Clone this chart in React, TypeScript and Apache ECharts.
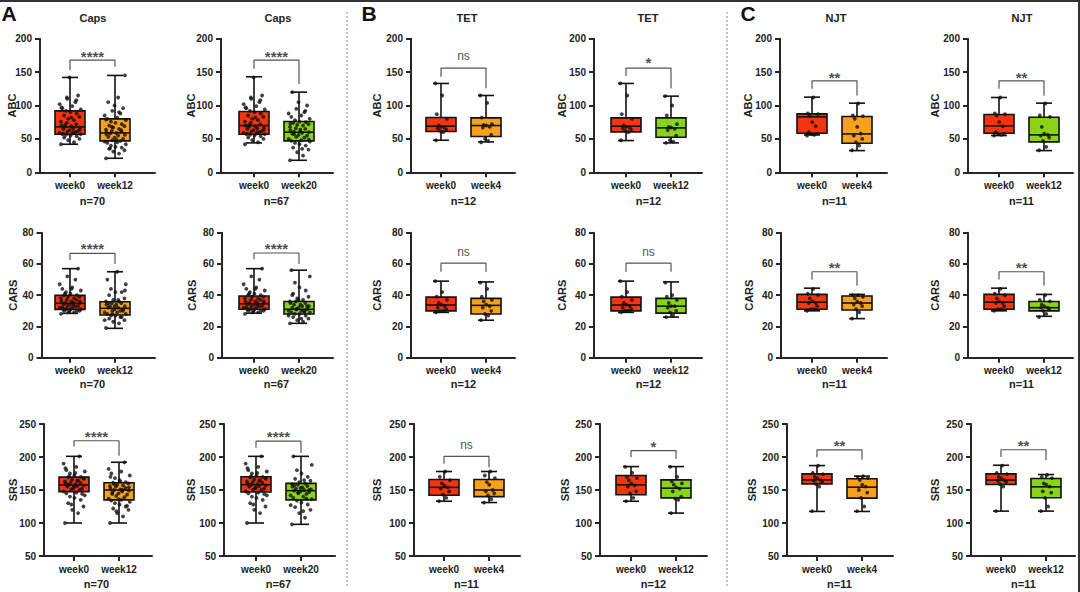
import React, { useEffect, useRef } from 'react';
import * as echarts from 'echarts';

// ---------- DATA ----------
const MEASURES = ['ABC', 'CARS', 'SRS'];
const GROUP_TITLES = ['Caps', 'Caps', 'TET', 'TET', 'NJT', 'NJT'];
const CATEGORIES = [
  ['week0', 'week12'],
  ['week0', 'week20'],
  ['week0', 'week4'],
  ['week0', 'week12'],
  ['week0', 'week4'],
  ['week0', 'week12'],
];
const N_LABELS = [
  ['n=70', 'n=67', 'n=12', 'n=12', 'n=11', 'n=11'],
  ['n=70', 'n=67', 'n=12', 'n=12', 'n=11', 'n=11'],
  ['n=70', 'n=67', 'n=11', 'n=12', 'n=11', 'n=11'],
];
// y-axis [min, max, interval]
const Y_TICKS = [
  [0, 200, 50],
  [0, 80, 20],
  [50, 250, 50],
];
const SIGNIFICANCE = [
  ['****', '****', 'ns', '*', '**', '**'],
  ['****', '****', 'ns', 'ns', '**', '**'],
  ['****', '****', 'ns', '*', '**', '**'],
];
// bracket: [left leg end, bar height, right leg end, label height]
const ABC_BRACKETS = [
  [153, 168, 158, 180], [155, 168, 132, 179], [143, 156, 126, 172],
  [144, 156, 126, 170], [125, 137, 115, 148], [125, 137, 115, 148],
];
const CARS_BRACKETS = [
  [62.5, 66.8, 60, 72.5], [63, 67, 60, 72.5], [55, 60.5, 55, 67],
  [55, 60.5, 55, 67], [50, 55, 46, 60], [50, 55, 46, 60],
];
const SRS_BRACKETS = [
  [216, 224.6, 202, 237.8], [214, 224, 206, 237], [189.6, 200.8, 184.5, 216],
  [199.6, 209.7, 197, 222], [199.7, 210.8, 195.7, 223.8], [200, 211, 195, 223],
];

// Box statistics: [min, Q1, median, Q3, max] for [week0, later week]
const ABC_BOX = [
  [[42, 57, 68, 92, 142], [21, 47, 59, 80, 145]],
  [[44, 57, 70, 91, 143], [18, 47, 60, 76, 120]],
  [[48, 61, 69, 82, 133], [45.5, 53.5, 70, 81.5, 115]],
  [[47.5, 60.5, 69, 81.5, 133], [44, 52.5, 66.5, 81.5, 114]],
  [[56, 58.5, 83, 87.5, 112.5], [32.5, 43.5, 57.5, 83.5, 103.5]],
  [[55, 58.5, 69.5, 86.5, 112], [32.5, 45.5, 56, 82.5, 103.5]],
];
const CARS_BOX = [
  [[28.4, 30.9, 34.8, 39.9, 57], [18.8, 27.3, 31.6, 35.8, 55]],
  [[28.5, 31, 34.5, 39.5, 57], [22, 28, 31, 36, 56]],
  [[29, 30, 33.7, 38.8, 49], [24, 28, 33.5, 38, 48.5]],
  [[29, 30, 33.7, 38.8, 49], [26, 28.5, 33, 38, 48.5]],
  [[30, 31, 35.5, 40.5, 44.5], [25, 30.5, 35, 39.5, 40.5]],
  [[30, 31, 35.5, 40.5, 44.5], [26.5, 30, 32, 36, 40.5]],
];
const SRS_BOX = [
  [[100, 147.5, 157.6, 169.5, 201], [100, 135, 150, 161, 192]],
  [[100, 147, 158, 170, 201], [98, 135, 149, 160, 201]],
  [[133, 142, 154, 166, 178], [131, 140, 150, 166, 178]],
  [[133, 142.7, 157.8, 172, 185.5], [115, 138, 152.8, 165.4, 185.5]],
  [[117.5, 159.3, 165.4, 174.4, 187], [117.5, 137.7, 154.3, 167, 171]],
  [[118, 158.3, 165, 174.4, 187.5], [118, 138.2, 154.8, 167.4, 173.4]],
];

// Individual subject values
const ABC_CAPS_W0 = [42, 45, 48, 50, 52, 54, 55, 56, 57, 57, 58, 59, 60, 61, 62, 63, 65, 66, 67, 68, 69, 70, 72, 74, 76, 78, 80, 83, 85, 88, 90, 92, 94, 96, 99, 102, 105, 110, 115, 142, 58, 60, 64, 71, 82, 97, 108, 112];
const ABC_CAPS_W12 = [21, 28, 31, 33, 35, 37, 38, 40, 42, 44, 45, 46, 47, 48, 50, 52, 53, 55, 56, 58, 59, 60, 61, 62, 64, 65, 67, 69, 70, 72, 74, 76, 78, 80, 82, 85, 88, 92, 96, 100, 105, 112, 145, 36, 49, 57, 63, 68, 79, 90];
const ABC_CAPS_W20 = [18, 25, 30, 34, 37, 40, 42, 44, 46, 47, 48, 50, 52, 53, 55, 56, 58, 59, 60, 61, 62, 63, 65, 66, 68, 70, 71, 72, 74, 75, 76, 78, 80, 83, 85, 88, 90, 95, 100, 105, 120, 35, 49, 57, 64, 73, 92];
const CARS_CAPS_W0 = [28, 29, 29, 30, 30, 30, 31, 31, 31, 32, 32, 32, 33, 33, 33, 34, 34, 35, 35, 35, 36, 36, 37, 37, 38, 38, 39, 39, 40, 40, 41, 42, 43, 44, 45, 47, 50, 52, 57, 30, 31, 34, 36, 41, 44];
const CARS_CAPS_W12 = [19, 22, 23, 24, 25, 26, 27, 27, 28, 28, 29, 29, 30, 30, 31, 31, 32, 32, 33, 33, 34, 34, 35, 35, 36, 36, 37, 38, 40, 42, 42, 44, 47, 50, 55, 24, 26, 28, 30, 33, 35, 37, 43];
const CARS_CAPS_W20 = [22, 23, 24, 25, 26, 27, 28, 28, 29, 29, 30, 30, 30, 31, 31, 32, 32, 33, 33, 34, 34, 35, 35, 36, 36, 37, 38, 39, 41, 43, 45, 48, 52, 56, 25, 27, 29, 31, 33, 37, 40];
const SRS_CAPS_W0 = [100, 115, 120, 125, 130, 135, 138, 140, 142, 145, 146, 148, 150, 151, 152, 154, 155, 156, 157, 158, 159, 160, 161, 162, 163, 165, 166, 168, 169, 170, 172, 175, 178, 180, 185, 190, 201, 128, 144, 153, 158, 164, 167, 171, 176, 183];
const SRS_CAPS_W12 = [100, 110, 115, 120, 122, 125, 128, 130, 132, 134, 135, 137, 139, 141, 143, 145, 146, 148, 149, 150, 151, 152, 153, 155, 156, 157, 158, 160, 161, 162, 165, 168, 172, 175, 178, 182, 192, 118, 126, 136, 144, 150, 154, 159, 163, 170];
const SRS_CAPS_W20 = [98, 108, 115, 120, 124, 128, 131, 134, 136, 138, 140, 142, 144, 146, 147, 148, 149, 150, 151, 152, 154, 155, 156, 158, 159, 160, 162, 164, 167, 170, 175, 180, 188, 201, 118, 127, 137, 145, 150, 153, 157, 165];

const ABC_TET_W0 = [48, 60, 62, 64, 66, 67, 68, 70, 80, 87, 115, 133];
const ABC_TET_W4 = [45, 47, 50, 56, 67, 68, 70, 71, 72, 82, 104, 115];
const ABC_TET_W12 = [44, 46, 48, 55, 63, 65, 67, 68, 72, 85, 100, 114];
const CARS_TET_W0 = [29, 30, 30, 31, 32, 33, 34, 35, 37, 39, 42, 49];
const CARS_TET_W4 = [24, 27, 28, 30, 32, 33, 34, 36, 37, 39, 44, 48];
const CARS_TET_W12 = [26, 27, 29, 30, 32, 33, 33, 35, 37, 39, 40, 48];
const SRS_TET_W0_A = [133, 138, 143, 148, 152, 154, 157, 160, 165, 170, 178];
const SRS_TET_W4 = [131, 136, 142, 145, 148, 150, 158, 162, 168, 172, 178];
const SRS_TET_W0_B = [133, 138, 145, 148, 155, 157, 160, 165, 168, 170, 176, 185];
const SRS_TET_W12 = [115, 135, 137, 140, 148, 152, 154, 158, 160, 163, 170, 185];

const ABC_NJT_W0 = [55, 56, 57, 58, 60, 69, 75, 85, 87, 88, 112];
const ABC_NJT_W4 = [33, 40, 45, 50, 55, 58, 68, 80, 84, 85, 103];
const ABC_NJT_W12 = [33, 38, 47, 52, 55, 56, 58, 68, 83, 85, 103];
const CARS_NJT_W0 = [30, 31, 31, 33, 35, 35, 36, 38, 40, 41, 44];
const CARS_NJT_W4 = [25, 29, 31, 33, 34, 35, 36, 38, 39, 40, 40];
const CARS_NJT_W12 = [26, 28, 30, 31, 32, 32, 33, 34, 36, 37, 40];
const SRS_NJT_W0 = [118, 155, 159, 162, 164, 165, 168, 170, 174, 176, 187];
const SRS_NJT_W4 = [118, 125, 138, 146, 150, 155, 158, 165, 168, 170, 171];
const SRS_NJT_W12 = [118, 125, 138, 146, 148, 155, 158, 160, 168, 170, 173];

const PANEL_DOTS = [
  [[ABC_CAPS_W0, ABC_CAPS_W12], [ABC_CAPS_W0, ABC_CAPS_W20], [ABC_TET_W0, ABC_TET_W4], [ABC_TET_W0, ABC_TET_W12], [ABC_NJT_W0, ABC_NJT_W4], [ABC_NJT_W0, ABC_NJT_W12]],
  [[CARS_CAPS_W0, CARS_CAPS_W12], [CARS_CAPS_W0, CARS_CAPS_W20], [CARS_TET_W0, CARS_TET_W4], [CARS_TET_W0, CARS_TET_W12], [CARS_NJT_W0, CARS_NJT_W4], [CARS_NJT_W0, CARS_NJT_W12]],
  [[SRS_CAPS_W0, SRS_CAPS_W12], [SRS_CAPS_W0, SRS_CAPS_W20], [SRS_TET_W0_A, SRS_TET_W4], [SRS_TET_W0_B, SRS_TET_W12], [SRS_NJT_W0, SRS_NJT_W4], [SRS_NJT_W0, SRS_NJT_W12]],
];
const PANEL_BOX = [ABC_BOX, CARS_BOX, SRS_BOX];
const PANEL_BRACKETS = [ABC_BRACKETS, CARS_BRACKETS, SRS_BRACKETS];

// ---------- LAYOUT / STYLE ----------
const RED = '#F5350F';
const ORANGE = '#F8A11C';
const GREEN = '#88D416';
const SECOND_COLORS = [ORANGE, GREEN, ORANGE, GREEN, ORANGE, GREEN];
const FONT = 'Arial, "Liberation Sans", sans-serif';
const TXT = '#222222';
const AXIS = '#262626';
const SPACING = 45; // px between category centres
const HALF_BOX = 15;
const HALF_CAP = 8;
// [y-axis x, first category x, x-axis end]
const PANEL_X = [
  [[40, 70, 155], [221, 254, 333], [411, 441, 515], [594, 626, 702], [780, 812, 887], [968, 999, 1073]],
  [[41.5, 70, 155], [222, 254, 333], [411, 441, 515], [594, 626, 702], [781, 812, 887], [968, 999, 1073]],
  [[44, 74, 152], [224, 256, 335], [414, 444, 520], [600, 631, 707], [787, 817, 893], [971, 1001, 1075]],
];
const ROW_Y = [[38.7, 172.3], [232.7, 357.7], [424, 556]];
const N_Y = [201, 384, 584];
const TITLE_X = [93, 278, 467, 648, 836, 1022];
const NAME_GAP = [23, 25, 29, 27, 27, 28];
const ROW_NAME_EXTRA = [0, 0, 3];
const JITTER = [-0.2, 0.09, -0.04, 0.21, -0.13, 0.15, 0.01, -0.09, 0.24, -0.17, 0.05, -0.23, 0.12, -0.06, 0.18, -0.01, -0.15, 0.07, 0.22, -0.11, 0.03, -0.19, 0.14, -0.07];

function buildOption() {
  const grid: any[] = [];
  const xAxis: any[] = [];
  const yAxis: any[] = [];
  const series: any[] = [];
  const graphic: any[] = [];

  for (let r = 0; r < 3; r++) {
    for (let c = 0; c < 6; c++) {
      const idx = r * 6 + c;
      const [ax, w0, ex] = PANEL_X[r][c];
      const [yt, yb] = ROW_Y[r];
      const cats = CATEGORIES[c];
      const second = SECOND_COLORS[c];
      grid.push({ left: ax, top: yt, width: ex - ax, height: yb - yt });
      xAxis.push({
        gridIndex: idx,
        type: 'value',
        min: 1 - (w0 - ax) / SPACING,
        max: 2 + (ex - w0 - SPACING) / SPACING,
        axisLine: { show: true, onZero: false, lineStyle: { color: AXIS, width: 2 } },
        axisTick: { show: true, customValues: [1, 2], length: 5, lineStyle: { color: AXIS, width: 2 } },
        axisLabel: {
          customValues: [1, 2],
          formatter: (v: number) => cats[Math.round(v) - 1] || '',
          color: TXT, fontWeight: 'bold', fontSize: 10, fontFamily: FONT, margin: 8,
        },
        splitLine: { show: false },
      });
      const [ymin, ymax, yint] = Y_TICKS[r];
      yAxis.push({
        gridIndex: idx,
        type: 'value',
        min: ymin, max: ymax, interval: yint,
        name: MEASURES[r],
        nameLocation: 'middle',
        nameRotate: 90,
        nameGap: NAME_GAP[c] + ROW_NAME_EXTRA[r],
        nameMoveOverlap: false,
        nameTextStyle: { color: TXT, fontWeight: 'bold', fontSize: 11, fontFamily: FONT },
        axisLine: { show: true, onZero: false, lineStyle: { color: AXIS, width: 2 } },
        axisTick: { show: true, length: 5, lineStyle: { color: AXIS, width: 2 } },
        axisLabel: { color: TXT, fontWeight: 'bold', fontSize: 10, fontFamily: FONT, margin: 8 },
        splitLine: { show: false },
      });

      const box = PANEL_BOX[r][c];
      series.push({
        type: 'custom',
        xAxisIndex: idx,
        yAxisIndex: idx,
        z: 2,
        silent: true,
        encode: { x: 0, y: [1, 2, 3, 4, 5] },
        data: [[1, ...box[0]], [2, ...box[1]]],
        renderItem: (params: any, api: any) => {
          const x = api.value(0);
          const pMin = api.coord([x, api.value(1)]);
          const pQ1 = api.coord([x, api.value(2)]);
          const pMed = api.coord([x, api.value(3)]);
          const pQ3 = api.coord([x, api.value(4)]);
          const pMax = api.coord([x, api.value(5)]);
          const cx = pMin[0];
          const ls = { stroke: '#111', lineWidth: 1.6 };
          return {
            type: 'group',
            children: [
              { type: 'line', shape: { x1: cx, y1: pMax[1], x2: cx, y2: pMin[1] }, style: ls },
              { type: 'line', shape: { x1: cx - HALF_CAP, y1: pMax[1], x2: cx + HALF_CAP, y2: pMax[1] }, style: ls },
              { type: 'line', shape: { x1: cx - HALF_CAP, y1: pMin[1], x2: cx + HALF_CAP, y2: pMin[1] }, style: ls },
              {
                type: 'rect',
                shape: { x: cx - HALF_BOX, y: pQ3[1], width: HALF_BOX * 2, height: pQ1[1] - pQ3[1] },
                style: { fill: x === 1 ? RED : second, stroke: '#111', lineWidth: 1.6 },
              },
              { type: 'line', shape: { x1: cx - HALF_BOX, y1: pMed[1], x2: cx + HALF_BOX, y2: pMed[1] }, style: ls },
            ],
          };
        },
      });

      const dots = PANEL_DOTS[r][c];
      const dotData: number[][] = [];
      dots.forEach((arr, k) => {
        const spread = arr.length > 20 ? 1 : 0.55;
        arr.forEach((v, i) => dotData.push([k + 1 + JITTER[i % JITTER.length] * spread, v]));
      });
      series.push({
        type: 'scatter',
        xAxisIndex: idx,
        yAxisIndex: idx,
        z: 3,
        silent: true,
        symbol: 'circle',
        symbolSize: 3.8,
        itemStyle: { color: '#111' },
        data: dotData,
      });

      const [bl, bt, br, by] = PANEL_BRACKETS[r][c];
      series.push({
        type: 'line',
        xAxisIndex: idx,
        yAxisIndex: idx,
        z: 4,
        silent: true,
        symbol: 'none',
        lineStyle: { color: '#555', width: 1.2 },
        data: [[1, bl], [1, bt], [2, bt], [2, br]],
      });
      const sig = SIGNIFICANCE[r][c];
      const isStar = sig !== 'ns';
      series.push({
        type: 'scatter',
        xAxisIndex: idx,
        yAxisIndex: idx,
        z: 4,
        silent: true,
        symbolSize: 1,
        itemStyle: { color: 'transparent' },
        label: {
          show: true,
          position: 'inside',
          formatter: sig,
          color: '#222',
          fontSize: isStar ? 15 : 12,
          fontWeight: isStar ? 'bold' : 'normal',
          fontFamily: FONT,
          offset: isStar ? [0, 4] : [0, -1],
        },
        data: [[1.5, by]],
      });

      graphic.push({
        type: 'text',
        x: w0 + SPACING / 2,
        y: N_Y[r],
        style: {
          text: N_LABELS[r][c],
          fill: TXT,
          font: `bold 11px ${FONT}`,
          textAlign: 'center',
          textVerticalAlign: 'middle',
        },
      });
      if (r === 0) {
        graphic.push({
          type: 'text',
          x: TITLE_X[c],
          y: 18,
          style: {
            text: GROUP_TITLES[c],
            fill: TXT,
            font: `bold 11px ${FONT}`,
            textAlign: 'center',
            textVerticalAlign: 'middle',
          },
        });
      }
    }
  }

  // panel letters
  [['A', 9], ['B', 369], ['C', 748]].forEach(([t, x]) => {
    graphic.push({
      type: 'text',
      x: x as number,
      y: 13,
      style: { text: t as string, fill: '#111', font: `bold 21px ${FONT}`, textAlign: 'center', textVerticalAlign: 'middle' },
    });
  });
  // dotted separators
  [347, 727].forEach((x) => {
    graphic.push({
      type: 'line',
      shape: { x1: x, y1: 12, x2: x, y2: 588 },
      style: { stroke: '#8a8a8a', lineWidth: 1, lineDash: [2, 2] },
    });
  });
  // frame lines
  graphic.push({ type: 'line', shape: { x1: 0, y1: 1, x2: 1080, y2: 1 }, style: { stroke: '#333', lineWidth: 2 } });
  graphic.push({ type: 'line', shape: { x1: 1079, y1: 0, x2: 1079, y2: 592 }, style: { stroke: '#333', lineWidth: 2 } });

  return {
    animation: false,
    backgroundColor: '#ffffff',
    grid,
    xAxis,
    yAxis,
    series,
    graphic,
  };
}

export default function App() {
  const ref = useRef<HTMLDivElement>(null);
  useEffect(() => {
    document.body.style.margin = '0';
    const chart = echarts.init(ref.current as HTMLDivElement, null, { renderer: 'svg' });
    chart.setOption(buildOption() as any);
    return () => chart.dispose();
  }, []);
  return (
    <div
      ref={ref}
      style={{ position: 'absolute', left: 0, top: 0, width: 1080, height: 592, background: '#fff' }}
    />
  );
}
